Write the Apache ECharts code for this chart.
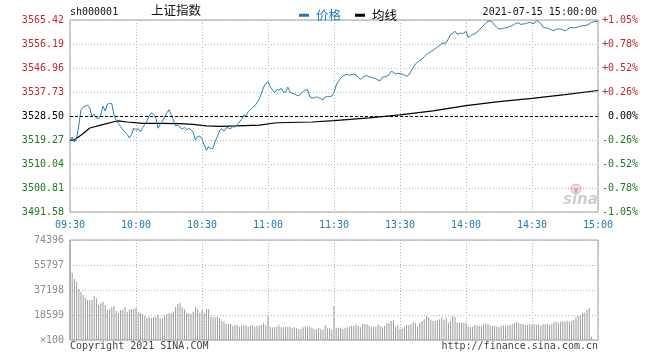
<!DOCTYPE html>
<html>
<head>
<meta charset="utf-8">
<script src="https://cdn.jsdelivr.net/npm/echarts@6/dist/echarts.min.js"></script>
<style>
html,body{margin:0;padding:0;background:#fff;}
#chart{width:660px;height:360px;}
</style>
</head>
<body>
<div id="chart"></div>
<script>
// ---------- data ----------
var preClose = 3528.50;
var timeTicks = ['09:30','10:00','10:30','11:00','11:30','13:30','14:00','14:30','15:00'];
var priceTicks = ['3491.58','3500.81','3510.04','3519.27','3528.50','3537.73','3546.96','3556.19','3565.42'];
var pctTicks = ['-1.05%','-0.78%','-0.52%','-0.26%','0.00%','+0.26%','+0.52%','+0.78%','+1.05%'];
var volTicks = ['\u00d7100','18599','37198','55797','74396'];

// minute prices, 09:30 .. 11:30 then 13:01 .. 15:00 (241 points)
var prices = [
3519.00,3520.40,3518.50,3520.00,3524.90,3531.00,3531.80,3532.35,3532.60,3531.60,
3528.20,3529.30,3527.70,3527.50,3528.90,3532.30,3530.40,3533.10,3533.30,3533.25,
3528.90,3526.80,3525.60,3524.50,3523.20,3522.30,3521.40,3520.00,3521.40,3523.90,
3523.00,3523.60,3522.40,3524.10,3525.20,3526.60,3528.60,3529.70,3529.10,3527.80,
3523.80,3525.20,3526.50,3528.10,3529.70,3530.90,3529.00,3527.00,3524.70,3525.00,
3524.20,3523.50,3524.10,3523.20,3523.70,3523.20,3522.20,3519.30,3520.60,3520.80,
3519.70,3517.30,3515.30,3516.80,3515.90,3516.10,3518.80,3520.50,3523.00,3523.60,
3522.70,3524.00,3523.90,3523.50,3524.50,3524.20,3525.20,3526.20,3527.20,3528.90,
3528.50,3530.20,3530.90,3531.80,3532.40,3533.60,3534.90,3537.30,3539.60,3541.00,
3541.70,3539.80,3538.60,3537.50,3538.60,3538.50,3539.10,3537.70,3537.70,3539.60,
3537.70,3537.10,3537.00,3536.50,3536.20,3537.30,3537.90,3538.60,3538.60,3535.90,
3535.50,3535.40,3535.90,3535.50,3535.20,3534.70,3535.80,3536.00,3535.90,3536.20,
3537.50,
3540.40,3541.80,3543.00,3543.80,3544.30,3544.50,3544.20,3544.40,3544.60,3544.20,
3543.30,3542.60,3543.40,3543.80,3544.00,3543.60,3543.30,3543.10,3542.90,3542.30,
3542.10,3543.40,3543.60,3543.80,3544.40,3545.70,3545.30,3544.70,3544.90,3544.80,
3544.60,3544.20,3543.80,3544.30,3545.70,3547.20,3548.50,3549.30,3549.80,3550.40,
3551.30,3552.20,3552.70,3553.20,3553.80,3554.40,3555.00,3555.50,3556.40,3556.50,
3556.60,3558.20,3559.90,3560.30,3561.10,3559.90,3560.30,3560.30,3560.30,3561.10,
3558.70,3559.30,3559.90,3560.00,3560.80,3561.60,3562.50,3563.30,3564.10,3565.00,
3565.00,3564.60,3563.50,3562.60,3562.00,3562.00,3562.20,3562.40,3562.60,3562.90,
3563.30,3563.80,3564.20,3564.30,3563.70,3563.90,3564.00,3564.30,3564.50,3564.20,
3564.10,3565.10,3564.80,3564.10,3562.70,3562.50,3562.30,3562.00,3561.50,3561.30,
3561.90,3562.00,3561.90,3561.60,3561.20,3561.80,3562.40,3562.60,3562.40,3562.50,
3562.80,3563.10,3563.20,3563.20,3563.50,3563.90,3564.50,3564.70,3564.90,3564.90
];

// average line, read at these minute indices
var avgMinutes = [0,2,6,9,14,20,22,26,33,41,50,56,62,68,76,86,94,110,120,136,150,165,180,195,210,225,240];
var avgValues = [3519.1,3519.3,3521.8,3523.9,3525.0,3526.3,3526.6,3526.2,3525.7,3525.7,3525.6,3525.3,3524.7,3524.5,3524.7,3525.0,3525.9,3526.2,3526.7,3527.8,3528.9,3530.5,3532.5,3534.0,3535.3,3536.7,3538.3];

// minute volumes (unit: x100)
var volumes = [
74396,50070,45380,43370,37940,35930,33480,31470,29760,29760,
29760,32730,31020,26040,27300,28500,26040,22320,22820,24300,
25290,21570,20330,22320,22320,24300,21080,22820,23060,23060,
24050,20830,20330,19340,17860,16610,16860,16120,16860,17360,
19090,16120,16120,17860,19090,19840,19840,21080,24300,26780,
27770,24300,22820,20330,19840,19340,21080,24800,23060,20330,
22320,20330,23060,23060,17360,16860,16860,17360,16120,14380,
13640,11900,11900,11900,10660,11160,11160,9920,10660,11160,
10660,9920,10660,11160,9920,10660,10660,11160,12900,11160,
18600,9920,9420,9420,9920,11160,9420,9420,9920,9420,
9920,8680,9420,8680,7940,7940,9420,10420,9420,9920,
9180,7940,7940,9180,7940,7440,11160,8680,8680,7440,
25290,9180,9180,9180,8180,8680,9420,9920,10420,10420,
11160,10660,9420,11650,11650,11650,10660,9420,9920,9920,
11650,10420,9420,10420,12400,12900,14140,14880,9920,11160,
8180,8680,9920,11160,11160,11650,13390,12900,9920,12900,
14140,15380,17860,16860,14880,14380,14380,14880,15380,16860,
14880,16120,12900,14380,17860,16860,12900,12900,12900,12900,
12900,10660,9420,9920,11160,10660,10660,10660,11650,12400,
11650,10660,10660,10660,9920,9420,10660,10660,10420,10660,
11160,11900,12900,13640,12400,11900,11650,11160,11160,11650,
11160,11900,11160,11650,10660,11900,11650,11650,11160,11650,
13140,13640,12900,13640,13640,13640,14140,13640,14380,14880,
16860,17860,18600,20330,20330,22320,23560,2480,0,0,
0
];

// ---------- chart ----------
var MONO = '"DejaVu Sans Mono", "Liberation Mono", monospace';
var CJK = '"Noto Sans CJK SC", "Noto Sans", sans-serif';
var GRID_LINE = {show: true, lineStyle: {color: '#b4b4b4', type: [1, 2], width: 1}};

var priceData = prices.map(function (v, i) { return [i, v]; });
var avgData = avgMinutes.map(function (m, k) { return [m, avgValues[k]]; });
var volData = volumes.map(function (v, i) { return [i, v]; });

function priceColor(v) {
  if (v > preClose + 0.001) return '#c62828';
  if (v < preClose - 0.001) return '#1b7a1b';
  return '#000000';
}

var chart = echarts.init(document.getElementById('chart'), null, {renderer: 'canvas'});
chart.setOption({
  animation: false,
  backgroundColor: '#ffffff',
  legend: {
    left: 294, top: 4,
    icon: 'rect', itemWidth: 10, itemHeight: 3, itemGap: 14,
    textStyle: {fontFamily: CJK, fontSize: 12.5, padding: [0, 0, 0, 2]},
    data: [
      {name: '价格', textStyle: {color: '#1f78b4'}},
      {name: '均线', textStyle: {color: '#000000'}}
    ]
  },
  grid: [
    {left: 70, top: 20, width: 528, height: 192, show: true, borderColor: '#a0a0a0', borderWidth: 1, containLabel: false},
    {left: 70, top: 240, width: 528, height: 100, show: true, borderColor: '#a0a0a0', borderWidth: 1, containLabel: false}
  ],
  xAxis: [
    {
      gridIndex: 0, type: 'value', min: 0, max: 240, interval: 30,
      axisLine: {show: false}, axisTick: {show: false},
      axisLabel: {
        margin: 8, color: '#2578ad', fontFamily: MONO, fontSize: 10,
        formatter: function (v, i) { return timeTicks[i]; }
      },
      splitLine: GRID_LINE
    },
    {
      gridIndex: 1, type: 'value', min: 0, max: 240, interval: 30,
      axisLine: {show: false}, axisTick: {show: false}, axisLabel: {show: false},
      splitLine: GRID_LINE
    }
  ],
  yAxis: [
    {
      gridIndex: 0, type: 'value', position: 'left',
      min: 3491.58, max: 3565.42, interval: 9.23,
      axisLine: {show: false}, axisTick: {show: false},
      axisLabel: {
        margin: 6, fontFamily: MONO, fontSize: 10,
        color: function (v) { return priceColor(v); },
        formatter: function (v, i) { return priceTicks[i]; }
      },
      splitLine: GRID_LINE
    },
    {
      gridIndex: 0, type: 'value', position: 'right',
      min: 3491.58, max: 3565.42, interval: 9.23,
      axisLine: {show: false}, axisTick: {show: false},
      axisLabel: {
        margin: 40, align: 'right', fontFamily: MONO, fontSize: 10,
        color: function (v) { return priceColor(v); },
        formatter: function (v, i) { return pctTicks[i]; }
      },
      splitLine: {show: false}
    },
    {
      gridIndex: 1, type: 'value', position: 'left',
      min: 0, max: 74396, interval: 18599,
      axisLine: {show: false}, axisTick: {show: false},
      axisLabel: {
        margin: 6, fontFamily: MONO, fontSize: 10, color: '#8c8c8c',
        formatter: function (v, i) { return volTicks[i]; }
      },
      splitLine: GRID_LINE
    }
  ],
  series: [
    {
      name: '价格', type: 'line', xAxisIndex: 0, yAxisIndex: 0,
      data: priceData, showSymbol: false, symbol: 'none',
      color: '#1f78b4',
      lineStyle: {color: '#2a7db5', width: 1},
      z: 3,
      markLine: {
        silent: true, symbol: ['none', 'none'],
        label: {show: false},
        lineStyle: {color: '#000000', type: [3, 2], width: 1},
        data: [{yAxis: preClose}]
      }
    },
    {
      name: '均线', type: 'line', xAxisIndex: 0, yAxisIndex: 0,
      data: avgData, showSymbol: false, symbol: 'none',
      color: '#000000',
      lineStyle: {color: '#000000', width: 1.2},
      z: 2
    },
    {
      name: '成交量', type: 'bar', xAxisIndex: 1, yAxisIndex: 2,
      data: volData, barWidth: 1,
      itemStyle: {color: '#9a9a9a'},
      large: false
    }
  ],
  graphic: [
    {type: 'text', left: 70, top: 7, style: {text: 'sh000001', font: '10px ' + MONO, fill: '#111'}},
    {type: 'text', left: 151, top: 4, style: {text: '上证指数', font: '12.5px ' + CJK, fill: '#111'}},
    {type: 'text', right: 63, top: 7, style: {text: '2021-07-15 15:00:00', font: '10px ' + MONO, fill: '#111'}},
    {type: 'text', left: 70, top: 341, style: {text: 'Copyright 2021 SINA.COM', font: '10px ' + MONO, fill: '#444'}},
    {type: 'text', right: 62, top: 341, style: {text: 'http://finance.sina.com.cn', font: '10px ' + MONO, fill: '#444'}},
    {type: 'circle', shape: {cx: 576, cy: 189, r: 5}, style: {fill: 'rgba(240,130,130,0.3)', stroke: 'rgba(230,110,110,0.45)', lineWidth: 1}, z: 1},
    {type: 'circle', shape: {cx: 576, cy: 190, r: 2}, style: {fill: 'rgba(130,130,130,0.45)'}, z: 1},
    {type: 'text', left: 563, top: 193, style: {text: 'sina', font: 'italic bold 15px "DejaVu Sans", sans-serif', fill: 'rgba(185,185,185,0.7)'}, z: 1}
  ]
});
</script>
</body>
</html>
